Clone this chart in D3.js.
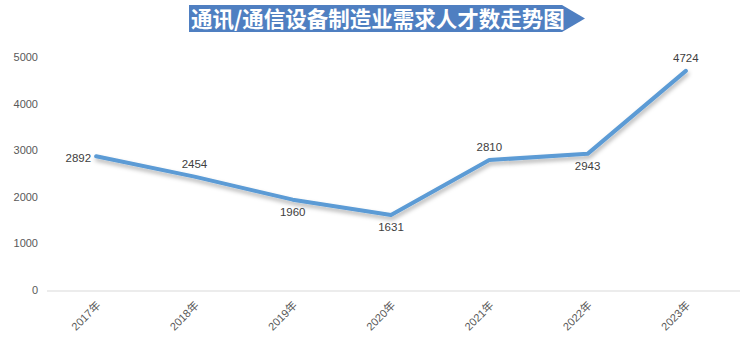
<html><head>
<meta charset="utf-8">
<script src="https://cdn.jsdelivr.net/npm/d3@7/dist/d3.min.js"></script>
<style>
  body { margin:0; background:#fff; }
  text { font-family: "Liberation Sans", "Noto Sans CJK SC", sans-serif; }
</style>
</head>
<body>
<svg id="chart" width="741" height="344"></svg>
<script>
  const title = "通讯/通信设备制造业需求人才数走势图";
  const years = ["2017年","2018年","2019年","2020年","2021年","2022年","2023年"];
  const values = [2892, 2454, 1960, 1631, 2810, 2943, 4724];
  const yTicks = [0, 1000, 2000, 3000, 4000, 5000];
  // where each data label sits relative to its point
  const labelPos = ["left","above","below","below","above","below","above"];

  let svg = d3.select("svg#chart");

  let x = d3.scaleBand()
            .domain(years)
            .range([47, 735]);

  let y = d3.scaleLinear()
            .domain([0, 5000])
            .range([291, 58]);

  // shadow filter for the line
  let defs = svg.append("defs");
  let f = defs.append("filter").attr("id","shadow")
              .attr("x","-5%").attr("y","-20%").attr("width","110%").attr("height","140%");
  f.append("feDropShadow")
   .attr("dx",1).attr("dy",3).attr("stdDeviation",2)
   .attr("flood-color","#000").attr("flood-opacity",0.3);

  // title banner
  let banner = svg.append("g");
  banner.append("path")
        .attr("d","M189,5 L562,5 L585,18.5 L562,32 L189,32 Z")
        .attr("fill","#4f7fc1");
  banner.append("text")
        .text(title)
        .attr("x", 191)
        .attr("y", 27)
        .style("font-family", "'Noto Sans CJK SC', sans-serif")
        .style("font-weight", "bold")
        .style("font-size", "21.5px")
        .style("fill", "#fff");

  // baseline
  svg.append("line")
     .attr("x1", 47).attr("x2", 740)
     .attr("y1", y(0)).attr("y2", y(0))
     .style("stroke", "#d9d9d9")
     .style("stroke-width", 1);

  // y tick labels
  yTicks.forEach(t => {
    svg.append("text")
       .text(t)
       .attr("x", 38)
       .attr("y", y(t))
       .style("text-anchor", "end")
       .style("dominant-baseline", "middle")
       .style("font-size", "11px")
       .style("fill", "#595959");
  });

  // x tick labels
  years.forEach(d => {
    let cx = x(d) + x.bandwidth() / 2;
    svg.append("text")
       .text(d)
       .attr("transform", `translate(${cx + 3},${304}) rotate(-45)`)
       .style("text-anchor", "end")
       .style("dominant-baseline", "middle")
       .style("font-size", "11px")
       .style("fill", "#595959");
  });

  // line
  let line = d3.line()
               .x((d, i) => x(years[i]) + x.bandwidth() / 2)
               .y(d => y(d));

  svg.append("path")
     .datum(values)
     .attr("d", line)
     .attr("fill", "none")
     .attr("stroke", "#5b9bd5")
     .attr("stroke-width", 4)
     .attr("stroke-linejoin", "round")
     .attr("stroke-linecap", "round")
     .attr("filter", "url(#shadow)");

  // data labels
  values.forEach((v, i) => {
    let cx = x(years[i]) + x.bandwidth() / 2;
    let cy = y(v);
    let lx = cx, ly = cy, anchor = "middle";
    if (labelPos[i] == "left") { lx = cx - 5; ly = cy + 3; anchor = "end"; }
    else if (labelPos[i] == "above") { ly = cy - 12; }
    else { ly = cy + 13; }
    svg.append("text")
       .text(v)
       .attr("x", lx)
       .attr("y", ly)
       .style("text-anchor", anchor)
       .style("dominant-baseline", "middle")
       .style("font-size", "11.5px")
       .style("fill", "#404040");
  });
</script>
</body>
</html>
